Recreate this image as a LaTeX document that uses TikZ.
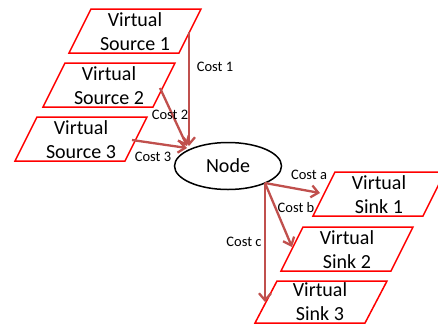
\documentclass[tikz,border=0pt]{standalone}
\usepackage{fontspec}
\setmainfont{Carlito}
\usetikzlibrary{arrows.meta,shapes.geometric}
\definecolor{arrowred}{HTML}{C0504D}
\tikzset{
  para/.style={draw=red, line width=1.5pt, fill=white},
  ptext/.style={align=center, font=\fontsize{20}{24}\selectfont, inner sep=0pt},
  cost/.style={font=\fontsize{14.5}{16}\selectfont, inner sep=0pt},
  conn/.style={draw=arrowred, line width=2.3pt, -{Straight Barb[length=7pt,width=12pt,line width=2.3pt]}},
}
\newcommand{\parabox}[4]{% name, tlx, tly, text
  \draw[para] (#2,#3) -- ++(110,0) -- ++(-22,44) -- ++(-110,0) -- cycle;
  \node[ptext] (#1) at ({#2+44},{#3+22.5}) {#4};
}
\begin{document}
\begin{tikzpicture}[x=1pt,y=-1pt]
\useasboundingbox (0,0) rectangle (438,325);
\parabox{s1}{91}{9}{Virtual\\Source 1}
\parabox{s2}{65}{63}{Virtual\\Source 2}
\parabox{s3}{37}{117}{Virtual\\Source 3}
\parabox{k1}{335}{172}{Virtual\\Sink 1}
\parabox{k2}{303}{227}{Virtual\\Sink 2}
\draw[para] (277,281) -- ++(110,0) -- ++(-22,42) -- ++(-110,0) -- cycle;
\node[ptext] (k3) at (320,302) {Virtual\\Sink 3};
\node[ellipse, draw=black, line width=1.5pt, minimum width=107pt, minimum height=47pt, inner sep=0pt, font=\fontsize{20}{24}\selectfont] (n) at (228,166) {Node};
% connector endpoints
\coordinate (s1o) at (189,32);
\coordinate (s2o) at (160,88);
\coordinate (s3o) at (132,140);
\coordinate (nin1) at (189,146);
\coordinate (nin2) at (187,146);
\coordinate (nin3) at (187,148);
\coordinate (nout) at (265,183);
\coordinate (k1i) at (320,193);
\coordinate (k2i) at (292,247);
\coordinate (k3i) at (265,302);
\draw[conn] (s1o) -- (nin1);
\draw[conn] (s2o) -- (nin2);
\draw[conn] (s3o) -- (nin3);
\draw[conn] (nout) -- (k1i);
\draw[conn] (nout) -- (k2i);
\draw[conn] (nout) -- (k3i);
\node[cost] (c1) at (215,67) {Cost 1};
\node[cost] (c2) at (170,115) {Cost 2};
\node[cost] (c3) at (153,157) {Cost 3};
\node[cost] (ca) at (309,175) {Cost a};
\node[cost] (cb) at (296,208) {Cost b};
\node[cost] (cc) at (244,242) {Cost c};
\end{tikzpicture}
\end{document}
